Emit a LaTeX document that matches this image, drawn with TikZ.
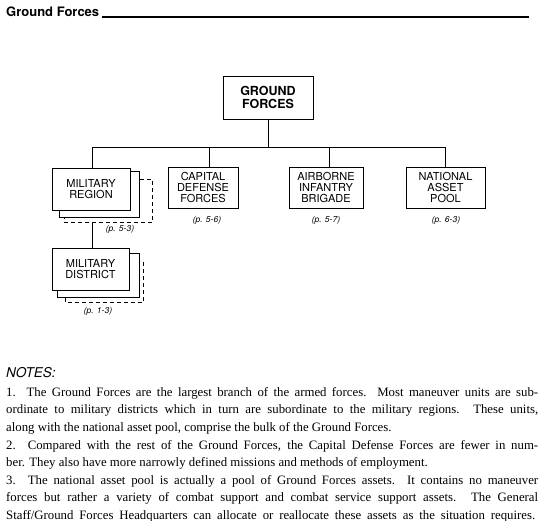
\documentclass[tikz,border=0pt]{standalone}
\usepackage{fontspec}
\setmainfont{Liberation Serif}
\setsansfont{TeX Gyre Heros}
\usetikzlibrary{backgrounds}
\begin{document}
\begin{tikzpicture}[x=1pt,y=-1pt,
    unit/.style={draw, line width=0.9pt, fill=white, align=center, inner sep=0pt,
      font=\sffamily\fontsize{11}{10.8}\selectfont},
    shadow/.style={draw, line width=0.9pt, fill=white},
    ghost/.style={draw, line width=0.8pt, fill=white, dash pattern=on 4pt off 3pt},
    pageref/.style={inner sep=0pt, font=\sffamily\itshape\fontsize{8.5}{9}\selectfont},
    link/.style={line width=0.9pt}]
  \useasboundingbox (0,0) rectangle (550,521);

  % heading
  \node[anchor=base west, inner sep=0pt, font=\sffamily\bfseries\fontsize{13}{15}\selectfont]
    (title) at (6,17) {Ground Forces};
  \coordinate (ruleend) at (529,17);
  \draw[line width=1.1pt] ([xshift=3pt]title.base east) -- (ruleend);

  % organisation
  \node[unit, minimum width=90pt, minimum height=43pt,
    font=\sffamily\bfseries\fontsize{12.5}{12.5}\selectfont] (gf) at (268,97.5) {GROUND\\FORCES};
  \node[unit, minimum width=78pt, minimum height=42pt] (region) at (91,189) {MILITARY\\REGION};
  \node[unit, minimum width=77pt, minimum height=42pt] (district) at (90.5,269) {MILITARY\\DISTRICT};
  \node[unit, minimum width=70pt, minimum height=41pt] (capital) at (203,187.5) {CAPITAL\\DEFENSE\\FORCES};
  \node[unit, minimum width=74pt, minimum height=41pt] (airborne) at (326,187.5) {AIRBORNE\\INFANTRY\\BRIGADE};
  \node[unit, minimum width=79pt, minimum height=41pt] (pool) at (445.5,187.5) {NATIONAL\\ASSET\\POOL};

  \node[pageref] (pregion) at (120,229) {(p. 5-3)};
  \node[pageref] (pdistrict) at (98,311) {(p. 1-3)};
  \node[pageref] (pcapital) at (207,220) {(p. 5-6)};
  \node[pageref] (pairborne) at (326,220) {(p. 5-7)};
  \node[pageref] (ppool) at (446,220) {(p. 6-3)};

  \begin{pgfonlayer}{background}
    \draw[link] (gf.south) -- ++(0,28) coordinate (bus);
    \draw[link] ([xshift=1pt]region.north) |- (pool.north |- bus) -- (pool.north);
    \draw[link] ([xshift=6pt]capital.north) -- ([xshift=6pt]capital.north |- bus);
    \draw[link] ([xshift=3pt]airborne.north) -- ([xshift=3pt]airborne.north |- bus);
    \draw[link] ([xshift=1pt]region.south) -- ([xshift=1pt]region.south |- district.north);
    % stacked cards behind the regions and districts
    \draw[ghost] ([shift={(13,12)}]region.north west) rectangle ([shift={(22,12)}]region.south east);
    \draw[shadow] ([shift={(8,4)}]region.north west) rectangle ([shift={(9,7)}]region.south east);
    \draw[ghost] ([shift={(14,15)}]district.north west) rectangle ([shift={(14,12)}]district.south east);
    \draw[shadow] ([shift={(6,6)}]district.north west) rectangle ([shift={(10,7)}]district.south east);
  \end{pgfonlayer}

  % notes
  \node[anchor=base west, inner sep=0pt, font=\sffamily\itshape\fontsize{13.5}{15}\selectfont]
    (noteshead) at (6,378) {NOTES:};
  \node[anchor=north west, inner sep=0pt, text width=532pt, align=justify,
    font=\fontsize{12.8}{17.6}\selectfont] (notes) at (6,387) {\parindent=0pt
    1. The Ground Forces are the largest branch of the armed forces. Most maneuver units are sub-\linebreak
    ordinate to military districts which in turn are subordinate to the military regions. These units,\linebreak
    along with the national asset pool, comprise the bulk of the Ground Forces.\par
    2. Compared with the rest of the Ground Forces, the Capital Defense Forces are fewer in num-\linebreak
    ber. They also have more narrowly defined missions and methods of employment.\par
    3. The national asset pool is actually a pool of Ground Forces assets. It contains no maneuver\linebreak
    forces but rather a variety of combat support and combat service support assets. The General\linebreak
    Staff/Ground\hfill Forces\hfill Headquarters\hfill can\hfill allocate\hfill or\hfill reallocate\hfill
    these\hfill assets\hfill as\hfill the\hfill situation\hfill requires.\hspace*{3pt}\par};
\end{tikzpicture}
\end{document}
